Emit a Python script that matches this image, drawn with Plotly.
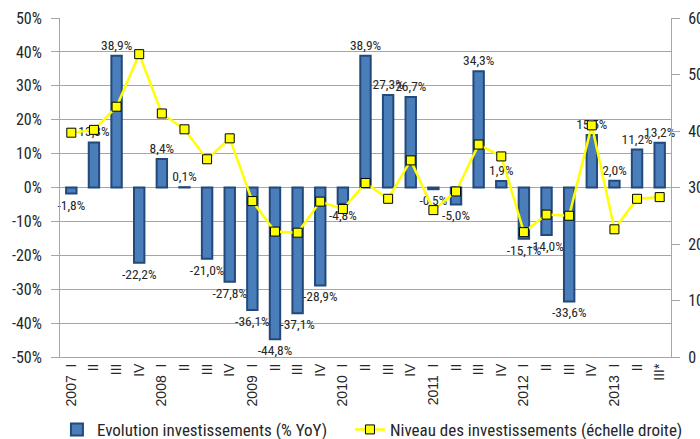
import plotly.graph_objects as go

categories = ["2007 I", "2007 II", "2007 III", "2007 IV",
              "2008 I", "2008 II", "2008 III", "2008 IV",
              "2009 I", "2009 II", "2009 III", "2009 IV",
              "2010 I", "2010 II", "2010 III", "2010 IV",
              "2011 I", "2011 II", "2011 III", "2011 IV",
              "2012 I", "2012 II", "2012 III", "2012 IV",
              "2013 I", "2013 II", "2013 III*"]
tick_labels = ["2007  I", "II", "III", "IV",
               "2008  I", "II", "III", "IV",
               "2009  I", "II", "III", "IV",
               "2010  I", "II", "III", "IV",
               "2011  I", "II", "III", "IV",
               "2012  I", "II", "III", "IV",
               "2013  I", "II", "III*"]
evolution = [-1.8, 13.3, 38.9, -22.2,
             8.4, 0.1, -21.0, -27.8,
             -36.1, -44.8, -37.1, -28.9,
             -4.8, 38.9, 27.3, 26.7,
             -0.5, -5.0, 34.3, 1.9,
             -15.1, -14.0, -33.6, 15.5,
             2.0, 11.2, 13.2]
niveau = [39.7, 40.2, 44.3, 53.6,
          43.1, 40.3, 35.0, 38.7,
          27.6, 22.2, 22.0, 27.5,
          26.2, 30.8, 28.0, 34.8,
          26.0, 29.3, 37.6, 35.5,
          22.1, 25.2, 25.0, 41.0,
          22.6, 28.0, 28.3]
left_ticks = [-50, -40, -30, -20, -10, 0, 10, 20, 30, 40, 50]
right_ticks = [0, 10, 20, 30, 40, 50, 60]

NARROW = "Roboto Condensed, Liberation Sans Narrow, Arial Narrow, Liberation Sans, sans-serif"
REGULAR = "Liberation Sans, Arial, sans-serif"
TXT = "#262626"

bar_text = [("%.1f%%" % v).replace(".", ",") for v in evolution]

fig = go.Figure()
fig.add_trace(go.Bar(
    x=categories, y=evolution, name="Evolution investissements (% YoY)",
    marker=dict(color="#4A7EBB", line=dict(color="#23497A", width=2)),
    width=0.46,
    text=bar_text, textposition="outside", cliponaxis=False,
    constraintext="none", textangle=0,
    textfont=dict(family=NARROW, size=13.5, color=TXT),
    yaxis="y", legend="legend",
))
fig.add_trace(go.Scatter(
    x=categories, y=niveau, name="Niveau des investissements (échelle droite)",
    mode="lines+markers",
    line=dict(color="#FFFF00", width=2.5),
    marker=dict(symbol="square", size=9, color="#FFFF00",
                line=dict(color="#000000", width=1)),
    yaxis="y2", cliponaxis=False, legend="legend2",
))

legend_common = dict(orientation="h", xanchor="left", y=-0.215, yanchor="middle",
                     font=dict(family=NARROW, size=17, color=TXT),
                     itemwidth=30, bgcolor="rgba(0,0,0,0)")

fig.update_layout(
    width=700, height=439,
    margin=dict(l=60, r=29, t=18, b=82, autoexpand=False),
    paper_bgcolor="white", plot_bgcolor="white",
    font=dict(family=NARROW, size=14, color=TXT),
    showlegend=True,
    legend=dict(x=-0.005, **legend_common),
    legend2=dict(x=0.4746, **legend_common),
    xaxis=dict(
        type="category", tickvals=categories, ticktext=tick_labels,
        tickangle=-90, showgrid=False, showline=True, linecolor="#A6A6A6",
        linewidth=1, ticks="", tickfont=dict(family=REGULAR, size=14, color=TXT),
        range=[-0.5, 26.5], automargin=False,
    ),
    yaxis=dict(
        range=[-50, 50], tickvals=left_ticks,
        ticktext=["%d%%" % v for v in left_ticks],
        showgrid=True, gridcolor="#A6A6A6", gridwidth=1,
        showline=True, linecolor="#A6A6A6", linewidth=1,
        ticks="outside", ticklen=8, tickcolor="#A6A6A6", ticklabelstandoff=6,
        zeroline=False, automargin=False,
        tickfont=dict(family=NARROW, size=16, color=TXT),
    ),
    yaxis2=dict(
        range=[0, 60], tickvals=right_ticks,
        ticktext=[str(v) for v in right_ticks],
        overlaying="y", side="right", showgrid=False,
        showline=True, linecolor="#A6A6A6", linewidth=1,
        ticks="outside", ticklen=8, tickcolor="#A6A6A6", ticklabelstandoff=5,
        zeroline=False, automargin=False,
        tickfont=dict(family=NARROW, size=16, color=TXT),
    ),
)

fig.write_html("out.html", config={"displayModeBar": False},
               post_script="document.body.style.margin='0';document.body.style.overflow='hidden';")
